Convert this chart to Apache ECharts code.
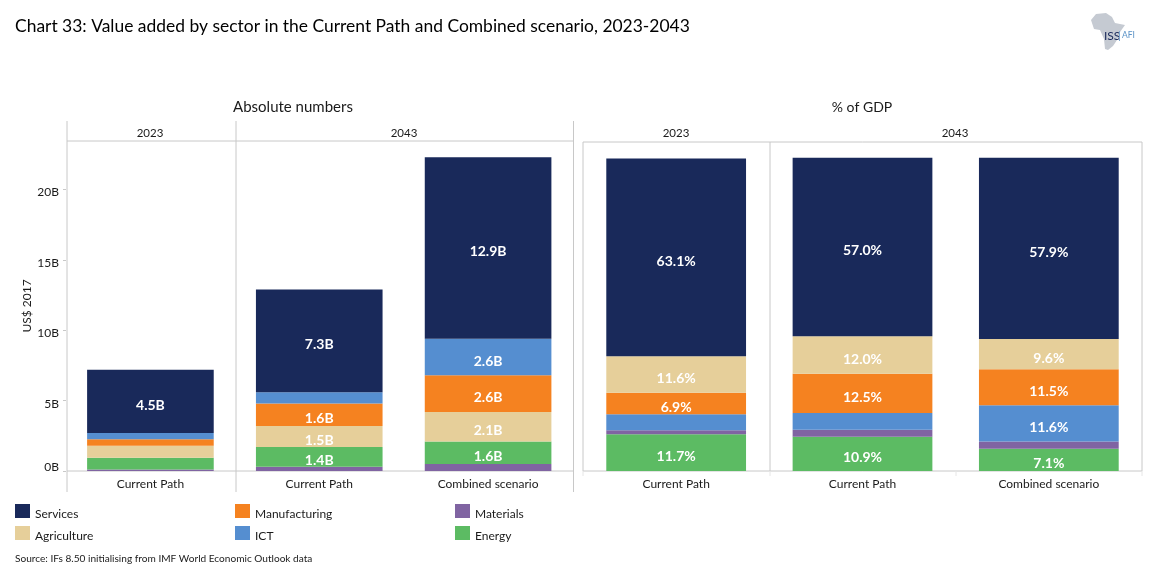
<!DOCTYPE html>
<html><head><meta charset="utf-8">
<style>html,body{margin:0;padding:0;background:#fff}#c{width:1154px;height:583px}</style>
<script src="https://cdn.jsdelivr.net/npm/echarts@6/dist/echarts.min.js"></script>
</head><body><div id="c"></div>
<script>
const categories = ['Current Path', 'Current Path', 'Combined scenario'];
const absServices = [4.5, 7.3, 12.9];
const absIct = [0.45, 0.8, 2.6];
const absManufacturing = [0.45, 1.6, 2.6];
const absAgriculture = [0.85, 1.5, 2.1];
const absEnergy = [0.85, 1.4, 1.6];
const absMaterials = [0.1, 0.3, 0.5];
const pctServices = [63.1, 57.0, 57.9];
const pctAgriculture = [11.6, 12.0, 9.6];
const pctManufacturing = [6.9, 12.5, 11.5];
const pctIct = [5.1, 5.3, 11.6];
const pctMaterials = [1.3, 2.3, 2.3];
const pctEnergy = [11.7, 10.9, 7.1];
const yTicks = [0, 5, 10, 15, 20];
const colors = {Services:'#19295a', Manufacturing:'#f58220', Materials:'#8064a2', Agriculture:'#e6cf9a', ICT:'#558ed0', Energy:'#5cbb63'};
const FONT = 'Lato';
const TXT = '#1a1a1a', LINE = '#c8c8c8';

function barSeries(name, data, idx, stack, minLabel, fmt) {
  return {
    name, type:'bar', stack, data, xAxisIndex:idx, yAxisIndex:idx, barWidth:'75%',
    itemStyle:{color:colors[name]},
    label:{show:true, position:'inside', offset:[0,4], color:'#fff', fontFamily:FONT, fontSize:14, fontWeight:'bold',
      formatter:p => p.value >= minLabel ? fmt(p.value) : ''},
    emphasis:{disabled:true}, animation:false
  };
}
const fmtB = v => v.toFixed(1) + 'B';
const fmtP = v => v.toFixed(1) + '%';
const series = [
  barSeries('Materials', absMaterials, 0, 'a', 1, fmtB),
  barSeries('Energy', absEnergy, 0, 'a', 1, fmtB),
  barSeries('Agriculture', absAgriculture, 0, 'a', 1, fmtB),
  barSeries('Manufacturing', absManufacturing, 0, 'a', 1, fmtB),
  barSeries('ICT', absIct, 0, 'a', 1, fmtB),
  barSeries('Services', absServices, 0, 'a', 1, fmtB),
  barSeries('Energy', pctEnergy, 1, 'p', 6, fmtP),
  barSeries('Materials', pctMaterials, 1, 'p', 6, fmtP),
  barSeries('ICT', pctIct, 1, 'p', 6, fmtP),
  barSeries('Manufacturing', pctManufacturing, 1, 'p', 6, fmtP),
  barSeries('Agriculture', pctAgriculture, 1, 'p', 6, fmtP),
  barSeries('Services', pctServices, 1, 'p', 6, fmtP)
];
function legend(left, names) {
  return {left, top:504, orient:'vertical', itemWidth:15, itemHeight:14, itemGap:6, icon:'rect', selectedMode:false,
    data:names, formatter:n => '{a|' + n + '}',
    textStyle:{color:TXT, fontFamily:FONT, fontSize:12,
      rich:{a:{color:TXT, fontFamily:FONT, fontSize:12, padding:[6,0,0,0]}}},
    padding:0, itemStyle:{borderWidth:0}};
}
function head(text, x, y, size) {
  return {text, left:x, top:y, textAlign:'center', textVerticalAlign:'middle', padding:0,
    textStyle:{color:TXT, fontFamily:FONT, fontSize:size, fontWeight:'normal'}};
}
function ln(x1,y1,x2,y2,c){return {type:'line', shape:{x1,y1,x2,y2}, style:{stroke:c||LINE, lineWidth:1}, silent:true};}

const chart = echarts.init(document.getElementById('c'), null, {renderer:'canvas'});
chart.setOption({
  animation:false, backgroundColor:'#fff',
  title:[
    {text:'Chart 33: Value added by sector in the Current Path and Combined scenario, 2023-2043', left:15, top:18, padding:0,
      textStyle:{color:'#000', fontFamily:FONT, fontSize:17.45, fontWeight:'normal'}},
    head('Absolute numbers', 293, 107, 15), head('% of GDP', 862, 107, 14),
    head('2023', 150, 133, 11.5), head('2043', 404, 133, 11.5),
    head('2023', 676, 133, 11.5), head('2043', 955, 133, 11.5),
    {text:'Source: IFs 8.50 initialising from IMF World Economic Outlook data', left:15, top:554, padding:0,
      textStyle:{color:TXT, fontFamily:FONT, fontSize:10.1, fontWeight:'normal'}}
  ],
  legend:[
    legend(15, ['Services','Agriculture']),
    legend(235, ['Manufacturing','ICT']),
    legend(455, ['Materials','Energy'])
  ],
  grid:[
    {left:66, right:1154-572.5, top:141, bottom:583-471},
    {left:583, right:1154-1142, top:142, bottom:583-471}
  ],
  xAxis:[0,1].map(i => ({
    type:'category', gridIndex:i, data:categories,
    axisLine:{show:false}, axisTick:{show:false},
    axisLabel:{color:TXT, fontFamily:FONT, fontSize:12, margin:7, interval:0}
  })),
  yAxis:[
    {type:'value', gridIndex:0, min:0, max:23.45, name:'US$ 2017', nameLocation:'middle', nameGap:31,
      nameTextStyle:{color:TXT, fontFamily:FONT, fontSize:12},
      axisLine:{show:false}, axisTick:{show:true, length:3, lineStyle:{color:LINE}, customValues:yTicks}, splitLine:{show:false},
      axisLabel:{color:TXT, fontFamily:FONT, fontSize:12, margin:7, customValues:yTicks,
        formatter:v => v === 0 ? '{z|0B}' : '{n|' + v + 'B}',
        rich:{z:{color:TXT,fontFamily:FONT,fontSize:12,padding:[0,0,8,0]}, n:{color:TXT,fontFamily:FONT,fontSize:12,padding:[6,0,0,0]}}}},
    {type:'value', gridIndex:1, min:0, max:105, show:false, splitLine:{show:false}}
  ],
  series,
  graphic:[
    ln(67,121,67,492), ln(236,121,236,492), ln(573.5,121,573.5,492),
    ln(67,141,573.5,141), ln(67,471,573.5,471),
    {type:'rect', shape:{x:583,y:142,width:559,height:329}, style:{fill:'none', stroke:LINE, lineWidth:1}, silent:true},
    ln(770,142,770,471),
    ln(583,471,583,476,'#e6e6e6'), ln(770,471,770,476,'#e6e6e6'), ln(956,471,956,476,'#e6e6e6'), ln(1142,471,1142,476,'#e6e6e6'),
    {type:'polygon', shape:{points:[[1091,20],[1096,14],[1106,13],[1112,17],[1115,23],[1125,25],[1120,32],[1117,40],[1113,46],[1108,50],[1105,49],[1104,39],[1100,30],[1094,29]]},
      style:{fill:'#c5cad2'}, silent:true},
    {type:'text', x:1104, y:30, style:{text:'ISS', fill:'#19295a', font:'12px Lato'}, silent:true},
    {type:'line', shape:{x1:1119.5,y1:31,x2:1119.5,y2:41}, style:{stroke:'#7fa8cf', lineWidth:1}, silent:true},
    {type:'text', x:1122, y:31, style:{text:'AFI', fill:'#5b93c7', font:'8.5px Lato'}, silent:true}
  ]
});
</script></body></html>
